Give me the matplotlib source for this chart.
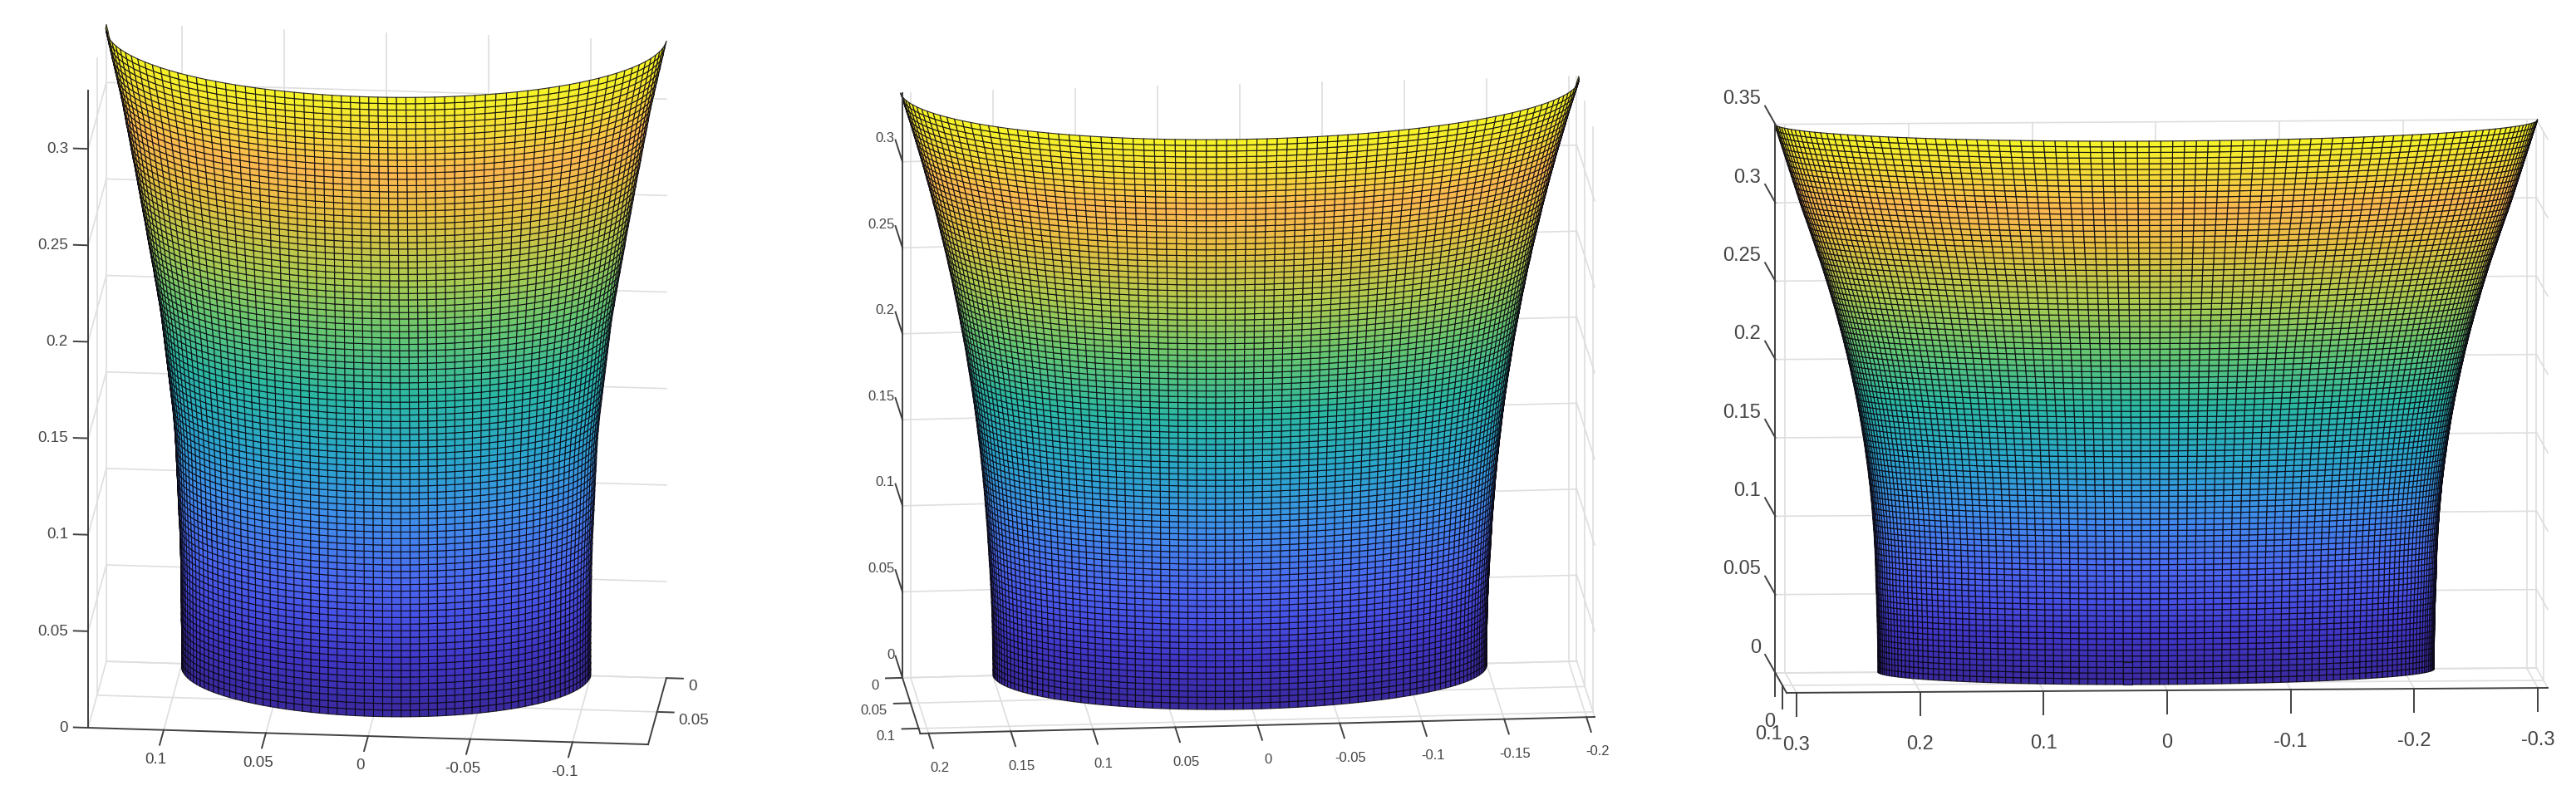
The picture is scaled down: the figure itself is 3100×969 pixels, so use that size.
import numpy as np
import matplotlib
matplotlib.use('Agg')
import matplotlib.pyplot as plt
from matplotlib.colors import LinearSegmentedColormap
from mpl_toolkits.mplot3d import proj3d

plt.rcParams['font.family'] = ['Liberation Sans', 'DejaVu Sans']

# half width of the surface, one value per mesh row from rim to top
radius_a = [
    .1000, .1000, .1000, .1000, .1000, .1000, .1000, .1001, .1001, .1001,
    .1002, .1002, .1002, .1003, .1003, .1004, .1004, .1005, .1006, .1007,
    .1008, .1009, .1011, .1013, .1014, .1016, .1017, .1019, .1020, .1022,
    .1023, .1025, .1027, .1028, .1030, .1032, .1034, .1037, .1040, .1043,
    .1047, .1051, .1055, .1059, .1063, .1067, .1071, .1075, .1079, .1083,
    .1087, .1091, .1095, .1099, .1104, .1109, .1115, .1120, .1126, .1132,
    .1137, .1143, .1149, .1155, .1161, .1167, .1172, .1178, .1184, .1190,
    .1196, .1202, .1208, .1214, .1220, .1226, .1232, .1239, .1245, .1251,
    .1257, .1263, .1270, .1276, .1282, .1288, .1295, .1302, .1310, .1317,
    .1325, .1332, .1340, .1347, .1355, .1362, .1370]
radius_b = [
    .1500, .1500, .1500, .1501, .1501, .1502, .1502, .1503, .1504, .1505,
    .1506, .1507, .1509, .1510, .1512, .1514, .1516, .1518, .1520, .1523,
    .1525, .1527, .1530, .1532, .1534, .1537, .1540, .1543, .1546, .1549,
    .1552, .1555, .1559, .1562, .1566, .1570, .1574, .1578, .1583, .1587,
    .1592, .1596, .1601, .1606, .1611, .1616, .1622, .1627, .1633, .1639,
    .1645, .1651, .1657, .1663, .1669, .1676, .1683, .1690, .1697, .1704,
    .1711, .1718, .1726, .1734, .1741, .1749, .1757, .1766, .1774, .1782,
    .1791, .1800, .1809, .1818, .1827, .1836, .1845, .1855, .1865, .1874,
    .1884, .1894, .1905, .1915, .1925, .1936, .1947, .1958, .1969, .1980,
    .1991, .2002, .2014, .2026, .2038, .2050, .2062]
radius_c = [
    .2250, .2250, .2250, .2251, .2251, .2252, .2253, .2254, .2255, .2256,
    .2257, .2258, .2260, .2261, .2263, .2265, .2267, .2268, .2269, .2270,
    .2272, .2274, .2276, .2279, .2281, .2284, .2288, .2291, .2295, .2299,
    .2303, .2308, .2312, .2317, .2323, .2328, .2334, .2340, .2347, .2353,
    .2360, .2367, .2375, .2382, .2390, .2398, .2407, .2415, .2424, .2434,
    .2443, .2453, .2463, .2473, .2484, .2494, .2505, .2517, .2528, .2540,
    .2552, .2565, .2577, .2590, .2603, .2617, .2630, .2644, .2658, .2673,
    .2687, .2702, .2717, .2733, .2749, .2764, .2780, .2796, .2812, .2828,
    .2845, .2861, .2877, .2892, .2907, .2922, .2937, .2952, .2967, .2982,
    .2997, .3012, .3027, .3042, .3057, .3072, .3087]

xticks_a = [0.1, 0.05, 0, -0.05, -0.1]
yticks_a = [0, 0.05]
zticks_a = [0, 0.05, 0.1, 0.15, 0.2, 0.25, 0.3]
xticks_b = [0.2, 0.15, 0.1, 0.05, 0, -0.05, -0.1, -0.15, -0.2]
yticks_b = [0, 0.05, 0.1]
zticks_b = [0, 0.05, 0.1, 0.15, 0.2, 0.25, 0.3]
xticks_c = [0.3, 0.2, 0.1, 0, -0.1, -0.2, -0.3]
yticks_c = [0, 0.1]
zticks_c = [0, 0.05, 0.1, 0.15, 0.2, 0.25, 0.3, 0.35]

color_pos = [0, .08, .15, .2, .3, .4, .5, .6, .7, .8, .87, .93, 1]
color_stops = ['#3a2aa0', '#4036c8', '#4752e6', '#4a66f0', '#3f8cec', '#2aa6cc', '#2ab8a4',
               '#62c672', '#aecb4e', '#e6c040', '#fcb850', '#f4d838', '#f6f626']
cmap = LinearSegmentedColormap.from_list('surf', list(zip(color_pos, color_stops)))

W, H = 3100, 970
fig = plt.figure(figsize=(W / 100, H / 100), dpi=100)
fig.patch.set_facecolor('white')


def to_px(ax, p):
    u, v, _ = proj3d.proj_transform(p[0], p[1], p[2], ax.get_proj())
    return ax.transData.transform((u, v))


def fit_axes(ax, a, b, pa, pb):
    # size and move the axes so world points a, b land on pixels pa, pb
    target = np.hypot(pb[0] - pa[0], pb[1] - pa[1])
    size = 1000.0
    left, bottom = 0.0, 0.0
    for _ in range(3):
        ax.set_position([left / W, bottom / H, size / W, size / H])
        fig.canvas.draw()
        qa, qb = to_px(ax, a), to_px(ax, b)
        size *= target / np.hypot(*(qb - qa))
        ax.set_position([left / W, bottom / H, size / W, size / H])
        fig.canvas.draw()
        qa = to_px(ax, a)
        left += pa[0] - qa[0]
        bottom += (H - pa[1]) - qa[1]
    ax.set_position([left / W, bottom / H, size / W, size / H])
    fig.canvas.draw()


def put_label(ax, p, s, **kw):
    q = to_px(ax, p)
    fig.text(q[0] / W, q[1] / H, s, color='#454545', **kw)


def draw_panel(radius, xticks, yticks, zticks, xm, ym, zm, elev, azim, box, corners,
               ncols, depth, mix, wall_x, z_at, y_at, z_vec, x_vec, y_vec, z_f, x_f, y_f,
               fs, y_ha, y_va, lw):
    ax = fig.add_subplot(projection='3d', proj_type='ortho', computed_zorder=False)
    ax.set_xlim(-xm, xm, view_margin=0)
    ax.set_ylim(0, ym, view_margin=0)
    ax.set_zlim(0, zm, view_margin=0)
    ax.set_box_aspect(box)
    ax.view_init(elev=elev, azim=azim)
    ax.set_axis_off()
    fit_axes(ax, (xm, ym, 0), (-xm, ym, 0), corners[0], corners[1])

    grid = dict(color='#dedede', lw=1.2, zorder=1)
    for x in xticks:
        ax.plot([x, x], [0, ym], [0, 0], **grid)
        ax.plot([x, x], [0, 0], [0, zm], **grid)
    for y in yticks:
        ax.plot([-xm, xm], [y, y], [0, 0], **grid)
        ax.plot([wall_x, wall_x], [y, y], [0, zm], **grid)
    for z in zticks:
        ax.plot([-xm, xm], [0, 0], [z, z], **grid)
        ax.plot([wall_x, wall_x], [0, ym], [z, z], **grid)

    # columns keep their spacing near the middle and crowd at the flared ends
    r = np.array(radius)
    zz = np.linspace(0, zm, len(r))
    theta = np.linspace(0, np.pi, ncols + 1)
    mid = r[0] + mix * (r - r[0])
    X = np.outer(mid, np.cos(theta)) + np.outer(r - mid, np.cos(theta) ** 3)
    Y = depth * np.sqrt(np.clip(r[:, None] ** 2 - X ** 2, 0, None))
    Z = np.outer(zz, np.ones_like(theta))
    ax.plot_surface(X, Y, Z, rcount=len(r), ccount=len(theta), facecolors=cmap(Z / zm),
                    edgecolor=(0.03, 0.02, 0.06, 0.85), linewidth=lw, shade=False, zorder=2)

    ink = dict(color='#404040', lw=1.4, zorder=3)
    ax.plot([-xm, xm], [ym, ym], [0, 0], **ink)
    ax.plot([y_at, y_at], [0, ym], [0, 0], **ink)
    ax.plot([z_at[0], z_at[0]], [z_at[1], z_at[1]], [0, zm], **ink)

    for x in xticks:
        ax.plot([x, x + x_vec[0]], [ym, ym + x_vec[1]], [0, x_vec[2]], **ink)
        put_label(ax, (x + x_vec[0] * x_f, ym + x_vec[1] * x_f, x_vec[2] * x_f), f'{x:g}',
                  fontsize=fs, ha='center', va='center')
    for y in yticks:
        ax.plot([y_at, y_at + y_vec[0]], [y, y + y_vec[1]], [0, y_vec[2]], **ink)
        put_label(ax, (y_at + y_vec[0] * y_f, y + y_vec[1] * y_f, y_vec[2] * y_f), f'{y:g}',
                  fontsize=fs, ha=y_ha, va=y_va)
    for z in zticks:
        ax.plot([z_at[0], z_at[0] + z_vec[0]], [z_at[1], z_at[1] + z_vec[1]],
                [z, z + z_vec[2]], **ink)
        put_label(ax, (z_at[0] + z_vec[0] * z_f, z_at[1] + z_vec[1] * z_f, z + z_vec[2] * z_f),
                  f'{z:g}', fontsize=fs, ha='right', va='center')


draw_panel(radius_a, xticks_a, yticks_a, zticks_a, 0.137, 0.098, 0.33, 19.2, 95.17,
           (677, 244, 812), [(106, 877), (780, 897)], 70, 0.69, 0.0,
           0.137, (0.137, 0.098), -0.137,
           (0.0070, 0, 0), (0, 0.022, 0), (-0.0081, 0, 0), 1.4, 1.95, 1.3,
           13.5, 'left', 'top', 0.8)
draw_panel(radius_b, xticks_b, yticks_b, zticks_b, 0.205, 0.11, 0.34, 16.1, 84.92,
           (815, 243, 733), [(1107.5, 884), (1919, 864)], 84, 0.52, 0.25,
           -0.205, (0.205, 0), 0.205,
           (0, -0.043, 0), (0, 0.029, 0), (0.0101, 0, 0), 1.1, 2.3, 1.4,
           12, 'right', 'top', 0.8)
draw_panel(radius_c, xticks_c, yticks_c, zticks_c, 0.308, 0.16, 0.35, 6.2, 86.52,
           (916, 222, 663), [(2150, 835), (3066, 830)], 97, 0.5, 0.85,
           -0.308, (0.308, 0), 0.308,
           (0, -0.147, 0), (0, 0, -0.0149), (0, 0, -0.0149), 1.42, 2.2, 2.05,
           17, 'right', 'center', 0.85)

fig.savefig('out.png', dpi=100, facecolor='white')
